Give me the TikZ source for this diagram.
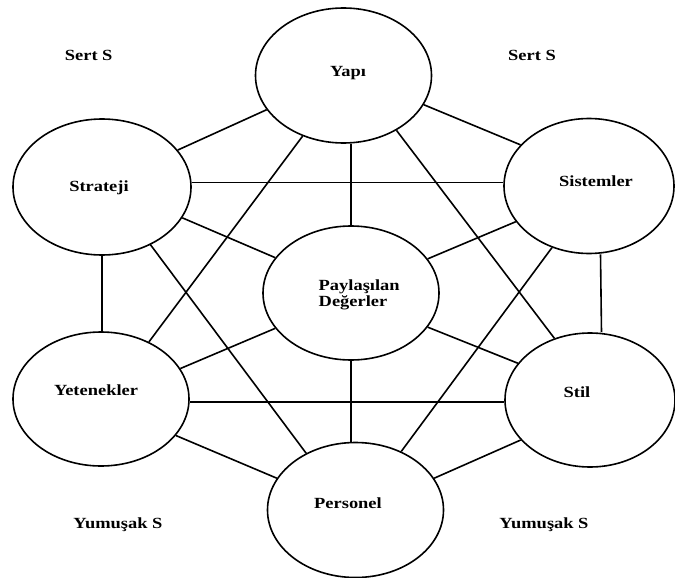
\documentclass[tikz,border=0pt]{standalone}
\usepackage{fontspec}
\setmainfont{Liberation Serif}[FakeStretch=1.19]
\usetikzlibrary{shapes.geometric}
\begin{document}
\begin{tikzpicture}[x=1pt,y=-1pt,
  sball/.style={draw=black, line width=1.6pt, ellipse, inner sep=0pt},
  lnk/.style={draw=black, line width=1.6pt},
  txt/.style={font=\fontsize{15.5}{16}\selectfont\bfseries, inner sep=0pt, anchor=base}]
\fill[white] (0,0) rectangle (675,578);
\useasboundingbox (0,0) rectangle (675,578);
% circles
\node[sball, minimum width=176pt, minimum height=135pt] (Y)  at (343.5,75.5) {};
\node[sball, minimum width=178pt, minimum height=136pt] (St) at (102,187) {};
\node[sball, minimum width=170pt, minimum height=135pt] (Si) at (589,186) {};
\node[sball, minimum width=176pt, minimum height=134pt] (P)  at (351,293) {};
\node[sball, minimum width=176pt, minimum height=134pt] (Ye) at (101,399) {};
\node[sball, minimum width=170pt, minimum height=134pt] (Sl) at (590,400) {};
\node[sball, minimum width=176pt, minimum height=135pt] (Pe) at (355.5,510) {};
% connectors
\draw[lnk] (Y.204.35) -- (St.26.84);
\draw[lnk] (Y.-20.75) -- (Si.149.7);
\draw[lnk] (P.north) -- (P.north |- Y.south);
\draw[lnk] (Y.-124.33) -- (Ye.50.68);
\draw[lnk] (Y.-46.95) -- (Sl.120.8);
\draw[lnk] (St.3.4) -- (St.3.4 -| Si.west);
\draw[lnk] (St.-21.66) -- (P.155.6);
\draw[lnk] (St.south) -- (St.south |- Ye.north);
\draw[lnk] (St.-50.45) -- (Pe.131.35);
\draw[lnk] (Si.-154.2) -- (P.24.17);
\draw[lnk] ([xshift=11.5pt]Si.south) -- ([xshift=11.5pt]Sl.north);
\draw[lnk] (Si.-121.4) -- (Pe.52.93);
\draw[lnk] (P.-155.3) -- (Ye.21.04);
\draw[lnk] (P.-24.17) -- (Sl.153.9);
\draw[lnk] (P.south) -- (P.south |- Pe.north);
\draw[lnk] (Ye.-2.8) -- (Ye.-2.8 -| Sl.west);
\draw[lnk] (Ye.-26.53) -- (Pe.158.9);
\draw[lnk] (Sl.-150.4) -- (Pe.22.78);
% texts
\node[txt] (tY)  at (348,76.5) {Yapı};
\node[txt] (tSt) at (99,191) {Strateji};
\node[txt] (tSi) at (596,186.7) {Sistemler};
\node[txt, anchor=base west, align=left] (tP) at (318.5,306.5) {Paylaşılan\\Değerler};
\node[txt] (tYe) at (96,395) {Yetenekler};
\node[txt] (tSl) at (577,397.7) {Stil};
\node[txt] (tPe) at (348,508.7) {Personel};
\node[txt] (s1) at (88.7,60.7) {Sert S};
\node[txt] (s2) at (532,60.7) {Sert S};
\node[txt] (y1) at (118,528.3) {Yumuşak S};
\node[txt] (y2) at (544,528.3) {Yumuşak S};
\end{tikzpicture}
\end{document}
